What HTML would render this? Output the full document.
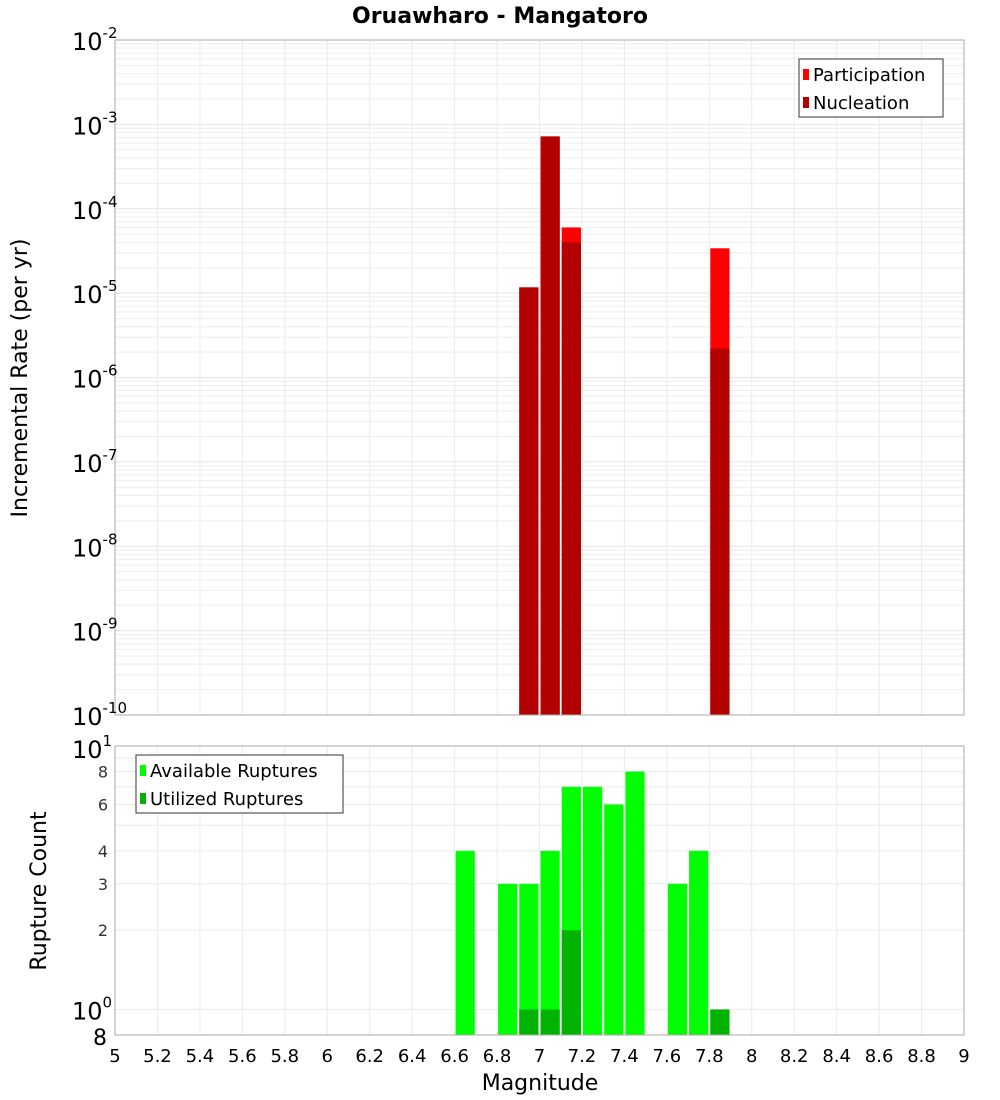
<!DOCTYPE html>
<html><head><meta charset="utf-8"><style>
body{margin:0;background:#fff;}
svg{display:block;font-family:"DejaVu Sans","Liberation Sans",sans-serif;}
</style></head><body>
<svg id="c" width="1000" height="1100" xmlns="http://www.w3.org/2000/svg">
<text x="500" y="23" text-anchor="middle" font-size="22" font-weight="bold">Oruawharo - Mangatoro</text>
<g id="top"></g>
<g id="bot"></g>
<text transform="translate(27,378) rotate(-90)" text-anchor="middle" font-size="22">Incremental Rate (per yr)</text>
<text transform="translate(46,891) rotate(-90)" text-anchor="middle" font-size="22">Rupture Count</text>
<text x="540" y="1090" text-anchor="middle" font-size="22">Magnitude</text>
</svg>
<script>
const mags = [6.95, 7.05, 7.15, 7.85];
const participation = [1.17e-5, 7.2e-4, 6.0e-5, 3.4e-5];
const nucleation = [1.17e-5, 7.2e-4, 4.0e-5, 2.2e-6];
const countMags = [6.65, 6.85, 6.95, 7.05, 7.15, 7.25, 7.35, 7.45, 7.65, 7.75, 7.85];
const available = [4, 3, 3, 4, 7, 7, 6, 8, 3, 4, 1];
const utilized = [0, 0, 1, 1, 2, 0, 0, 0, 0, 0, 1];
const xTicks = [5,5.2,5.4,5.6,5.8,6,6.2,6.4,6.6,6.8,7,7.2,7.4,7.6,7.8,8,8.2,8.4,8.6,8.8,9];
const topExps = [-10,-9,-8,-7,-6,-5,-4,-3,-2];
const botTicks = [8,6,4,3,2];

const NS="http://www.w3.org/2000/svg";
const L=115,R=964,T1=40,B1=715,T2=746,B2=1035;
const x=m=>L+(m-5)/4*(R-L);
const y1=v=>B1-(Math.log10(v)+10)/8*(B1-T1);
const y2=v=>T2+(1-Math.log10(v))/Math.log10(10/0.8)*(B2-T2);
function el(p,t,a,txt){const e=document.createElementNS(NS,t);for(const k in a)e.setAttribute(k,a[k]);if(txt!==undefined)e.textContent=txt;p.appendChild(e);return e;}
const topG=document.getElementById('top'),botG=document.getElementById('bot');
for(let e=-10;e<-2;e++)for(let k=1;k<10;k++){const yy=y1(k*Math.pow(10,e));const g=el(topG,'line',{x1:L,x2:R,y1:yy,y2:yy,stroke:k==1?'#e4e4e4':'#eeeeee','stroke-width':1});

}
xTicks.forEach(t=>{[[topG,T1,B1],[botG,T2,B2]].forEach(([g,a,b])=>{const l=el(g,'line',{x1:x(t),x2:x(t),y1:a,y2:b,stroke:'#ebebeb'});

});});
for(let v=1;v<=10;v++){const yy=y2(v);const l=el(botG,'line',{x1:L,x2:R,y1:yy,y2:yy,stroke:'#ebebeb'});

}
const bw=(R-L)/40;
mags.forEach((m,i)=>{
 const xl=x(m)-bw/2+1,w=bw-2;
 const p=el(topG,'rect',{x:xl,y:y1(participation[i]),width:w,height:B1-y1(participation[i]),fill:'#ff0000'});
 
 
 const n=el(topG,'rect',{x:xl,y:y1(nucleation[i]),width:w,height:B1-y1(nucleation[i]),fill:'#b30000'});
 
 
});
countMags.forEach((m,i)=>{
 const xl=x(m)-bw/2+1,w=bw-2;
 if(available[i]>0){const a=el(botG,'rect',{x:xl,y:y2(available[i]),width:w,height:B2-y2(available[i]),fill:'#00ff00'});
 
 }
 if(utilized[i]>0){const u=el(botG,'rect',{x:xl,y:y2(utilized[i]),width:w,height:B2-y2(utilized[i]),fill:'#00b300'});
 
 }
});
[[topG,T1,B1],[botG,T2,B2]].forEach(([g,a,b])=>{const r=el(g,'rect',{x:L,y:a,width:R-L,height:b-a,fill:'none',stroke:'#a8a8a8'});

});
topExps.forEach(e=>{const yy=y1(Math.pow(10,e));const t=el(topG,'text',{x:72,y:yy+10,'font-size':24});
el(t,'tspan',{},'10');el(t,'tspan',{dy:-12,'font-size':15},String(e));

});
let t=el(botG,'text',{x:72,y:y2(10)+12,'font-size':24});el(t,'tspan',{},'10');el(t,'tspan',{dy:-12,'font-size':15},'1');


t=el(botG,'text',{x:72,y:y2(1)+10,'font-size':24});el(t,'tspan',{},'10');el(t,'tspan',{dy:-12,'font-size':15},'0');


t=el(botG,'text',{x:107,y:B2+10,'font-size':22,'text-anchor':'end'},'8');


botTicks.forEach(v=>{const tt=el(botG,'text',{x:108,y:y2(v)+6,'font-size':16,'text-anchor':'end',fill:'#333'},String(v));

});
xTicks.forEach(v=>{const tt=el(botG,'text',{x:x(v),y:1062,'font-size':18,'text-anchor':'middle'},String(v));

});
function legend(g,x0,y0,w,items,name){const lg=el(g,'g',{});


el(lg,'rect',{x:x0,y:y0,width:w,height:58,fill:'#fff',stroke:'#333'});
items.forEach((it,i)=>{el(lg,'rect',{x:x0+4,y:y0+10+i*28,width:6,height:11,fill:it[1]});el(lg,'text',{x:x0+14,y:y0+22+i*28,'font-size':18},it[0]);});}
legend(topG,799,59,144,[['Participation','#ff0000'],['Nucleation','#b30000']],'legend-top');
legend(botG,136,755,207,[['Available Ruptures','#00ff00'],['Utilized Ruptures','#00b300']],'legend-bottom');
</script>
</body></html>
